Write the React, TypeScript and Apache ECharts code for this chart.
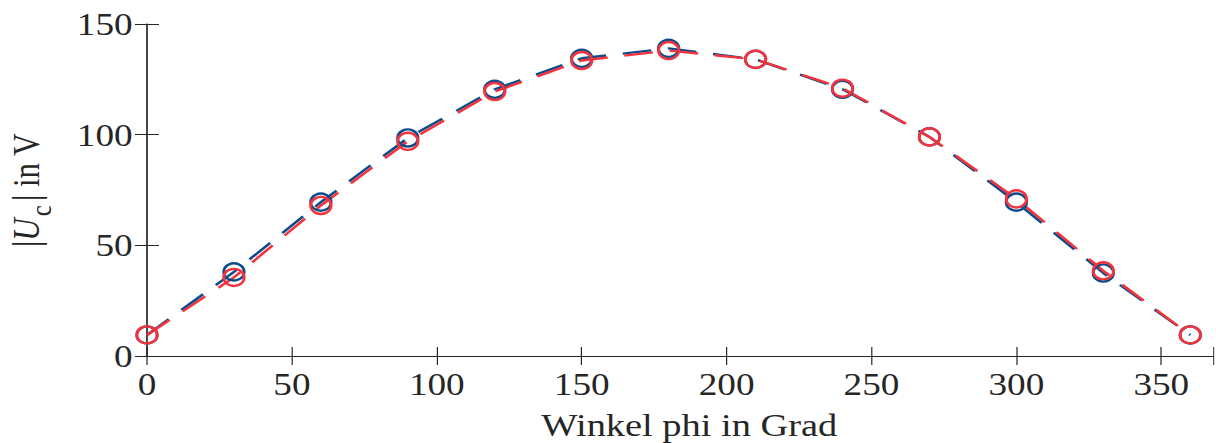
import React, { useEffect, useRef } from "react";
import * as echarts from "echarts";

const phi = [0, 30, 60, 90, 120, 150, 180, 210, 240, 270, 300, 330, 360];
const uBlue = [9.5, 38, 69.5, 98.5, 120.5, 134.5, 139, 134, 120.5, 99, 69.5, 37.5, 9.5];
const uRed = [9.5, 35.5, 68, 97, 119.5, 133.5, 138, 134, 121, 99, 71, 38.5, 9.5];
const xTicks = [0, 50, 100, 150, 200, 250, 300, 350];

const FONT = "'Liberation Serif', 'Times New Roman', serif";
const AXIS_COLOR = "#262626";
const BLUE = "#0b4d8c";
const RED = "#f4333d";
const STRETCH = 1.2;
const W = 1214 / STRETCH;

const mkTick = (len: number) => ({ show: true, inside: true, length: len, lineStyle: { color: AXIS_COLOR, width: 1 } });
const mkLine = () => ({ show: true, lineStyle: { color: AXIS_COLOR, width: 1 } });

export default function App() {
  const ref = useRef<HTMLDivElement>(null);
  useEffect(() => {
    if (!ref.current) return;
    const chart = echarts.init(ref.current, undefined, { renderer: "svg" });
    const mk = (vals: number[]) => phi.map((p, i) => [p, vals[i]]);
    const xFmt = (v: number) => (xTicks.includes(v) ? String(v) : "");
    const series = (name: string, vals: number[], color: string) => ({
      name,
      type: "line",
      data: mk(vals),
      symbol: "circle",
      symbolSize: 17,
      showSymbol: true,
      lineStyle: { color, width: 2.4, type: [24, 14] },
      itemStyle: { color: "rgba(0,0,0,0)", borderColor: color, borderWidth: 2.4 },
      emphasis: { disabled: true },
    });
    chart.setOption({
      animation: false,
      grid: { left: 122.5, right: 0.8, top: 24, bottom: 87, containLabel: false, outerBoundsMode: "none" },
      xAxis: [
        {
          type: "value",
          position: "bottom",
          min: 0,
          max: 368,
          interval: 50,
          axisLine: mkLine(),
          axisTick: mkTick(9),
          splitLine: { show: false },
          axisLabel: { formatter: xFmt, color: AXIS_COLOR, fontFamily: FONT, fontSize: 31, margin: 13 },
          name: "Winkel phi in Grad",
          nameLocation: "middle",
          nameGap: 55,
          nameTextStyle: {
            color: AXIS_COLOR,
            fontFamily: FONT,
            fontSize: 32,
            lineHeight: 30,
            verticalAlign: "top",
            padding: [0, 0, 0, 15],
          },
        },
        {
          type: "value",
          position: "top",
          min: 0,
          max: 368,
          interval: 50,
          axisLine: mkLine(),
          axisTick: mkTick(9),
          splitLine: { show: false },
          axisLabel: { show: false },
        },
      ],
      yAxis: [
        {
          type: "value",
          position: "left",
          min: 0,
          max: 150,
          interval: 50,
          axisLine: mkLine(),
          axisTick: mkTick(10),
          splitLine: { show: false },
          axisLabel: { color: AXIS_COLOR, fontFamily: FONT, fontSize: 31, margin: 12 },
          name: "{n||}{i|U}{s|c}{n|| in V}",
          nameLocation: "middle",
          nameRotate: 90,
          nameGap: 76,
          nameTextStyle: {
            color: AXIS_COLOR,
            fontFamily: FONT,
            fontSize: 31,
            rich: {
              n: { fontFamily: FONT, fontSize: 31, color: AXIS_COLOR, lineHeight: 50, verticalAlign: "middle" },
              i: { fontFamily: FONT, fontSize: 31, fontStyle: "italic", color: AXIS_COLOR, lineHeight: 50, verticalAlign: "middle" },
              s: { fontFamily: FONT, fontSize: 25, color: AXIS_COLOR, lineHeight: 16, verticalAlign: "bottom", padding: [0, 4, 0, 2] },
            },
          },
        },
        {
          type: "value",
          position: "right",
          min: 0,
          max: 150,
          interval: 50,
          axisLine: mkLine(),
          axisTick: mkTick(10),
          splitLine: { show: false },
          axisLabel: { show: false },
        },
      ],
      series: [series("blue", uBlue, BLUE), series("red", uRed, RED)],
    });
    return () => chart.dispose();
  }, []);
  return (
    <div
      ref={ref}
      style={{
        position: "absolute",
        left: 0,
        top: 0,
        width: W,
        height: 443,
        transform: `scaleX(${STRETCH})`,
        transformOrigin: "0 0",
      }}
    />
  );
}
